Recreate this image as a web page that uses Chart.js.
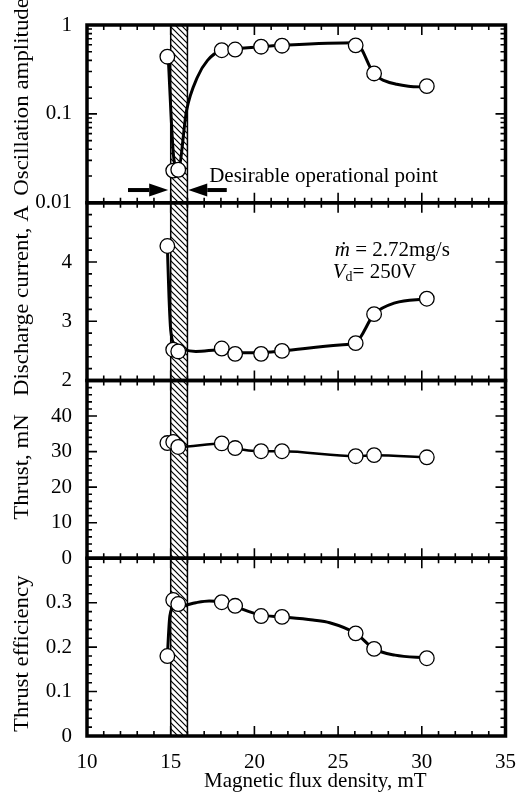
<!DOCTYPE html>
<html>
<head>
<meta charset="utf-8">
<script src="https://cdn.jsdelivr.net/npm/chart.js@4"></script>
<style>
  html, body { margin: 0; padding: 0; background: #fff; }
</style>
</head>
<body>
<canvas id="chart" width="522" height="796"></canvas>
<script>
// measured points (magnetic flux density, mT)
const fieldMT    = [14.8, 15.15, 15.45, 18.05, 18.85, 20.4, 21.65, 26.05, 27.15, 30.3];
const oscAmp     = [0.44, 0.023, 0.0235, 0.52, 0.53, 0.57, 0.585, 0.59, 0.285, 0.205];
const dischargeA = [4.27, 2.52, 2.49, 2.54, 2.45, 2.45, 2.5, 2.63, 3.12, 3.38];
const thrustMN   = [32.4, 32.7, 31.3, 32.3, 31.0, 30.1, 30.1, 28.7, 29.0, 28.4];
const efficiency = [0.18, 0.306, 0.297, 0.301, 0.293, 0.27, 0.268, 0.231, 0.196, 0.175];

// hand-drawn trend curves
const oscCurveB  = [14.85, 15.2, 15.45, 15.95, 16.6, 17.2, 18.05, 18.85, 20.4, 21.65, 26.05, 27.15, 27.8, 28.5, 29.2, 30.3];
const oscCurve   = [0.44, 0.03, 0.024, 0.11, 0.26, 0.4, 0.52, 0.54, 0.57, 0.59, 0.63, 0.28, 0.235, 0.215, 0.205, 0.2];
const curCurveB  = [14.8, 14.9, 15.0, 15.25, 15.7, 16.5, 18.05, 18.85, 20.4, 21.65, 25.1, 26.05, 27.15, 28.4, 30.3];
const curCurve   = [4.27, 3.4, 2.85, 2.6, 2.53, 2.49, 2.52, 2.47, 2.47, 2.5, 2.6, 2.64, 3.12, 3.31, 3.38];
const effCurveB  = [14.8, 14.95, 15.2, 15.6, 16.5, 17.3, 18.05, 18.85, 20.4, 21.65, 23.5, 24.5, 26.05, 27.15, 28.4, 30.3];
const effCurve   = [0.18, 0.27, 0.29, 0.292, 0.3, 0.304, 0.301, 0.291, 0.272, 0.268, 0.261, 0.255, 0.231, 0.196, 0.182, 0.176];

// labels
const panelIds    = ['yOsc', 'yCur', 'yThr', 'yEff'];
const panelTitles = ['Oscillation amplitude', 'Discharge current, A', 'Thrust, mN', 'Thrust efficiency'];
const xTitle      = 'Magnetic flux density, mT';

// annotations
const bandMT       = [15, 16];
const arrowLeftMT  = [12.45, 14.85];   // tail, tip
const arrowRightMT = [18.35, 16.05];
const arrowLevel   = 0.0139;
const noteText     = 'Desirable operational point';
const noteAt       = [17.3, 0.0195];
const condAt       = [24.8, 4.19, 3.82]; // x, y of mdot line, y of Vd line

const serif = '"Liberation Serif", "Times New Roman", serif';
const tickFont = { family: serif, size: 21 };
const titleShift = [-17, 9, -2.5, 6.5];   // title centre offset from panel centre, px

const pts = (xs, ys) => xs.map((x, i) => ({ x, y: ys[i] }));

function markers(ys, axis) {
  return {
    data: pts(fieldMT, ys), yAxisID: axis, order: 0, showLine: false,
    pointRadius: 7.3, pointBackgroundColor: '#fff', pointBorderColor: '#000', pointBorderWidth: 1.3
  };
}
function curve(xs, ys, axis, width) {
  return {
    data: pts(xs, ys), yAxisID: axis, order: 1, pointRadius: 0,
    borderColor: '#000', borderWidth: width || 3, cubicInterpolationMode: 'monotone'
  };
}

function panelAxis(weight, extra) {
  return Object.assign({
    stack: 'panels', stackWeight: 1, weight, position: 'left',
    grid: { display: false }, border: { display: false },
    ticks: Object.assign({ autoSkip: false, padding: 7, color: '#000', font: tickFont }, extra.ticks),
    afterFit: s => { s.width = 87; }
  }, extra.base);
}

const near = (v, step) => Math.abs(v / step - Math.round(v / step)) < 1e-6;

function hatch(ctx) {
  const p = document.createElement('canvas');
  p.width = p.height = 6;
  const g = p.getContext('2d');
  g.fillStyle = '#fff';
  g.fillRect(0, 0, 6, 6);
  g.strokeStyle = '#000';
  g.lineWidth = 1.2;
  g.beginPath();
  g.moveTo(-1, -1); g.lineTo(7, 7);
  g.moveTo(-1, 5); g.lineTo(1, 7);
  g.moveTo(5, -1); g.lineTo(7, 1);
  g.stroke();
  return ctx.createPattern(p, 'repeat');
}

function arrow(ctx, x0, x1, y) {
  const dir = Math.sign(x1 - x0);
  const head = 19;
  ctx.lineWidth = 4;
  ctx.beginPath();
  ctx.moveTo(x0, y); ctx.lineTo(x1 - dir * head, y);
  ctx.stroke();
  ctx.beginPath();
  ctx.moveTo(x1, y);
  ctx.lineTo(x1 - dir * head, y - 6.5);
  ctx.lineTo(x1 - dir * head, y + 6.5);
  ctx.closePath();
  ctx.fill();
}

const decorations = {
  id: 'decorations',
  beforeDatasetsDraw(chart) {
    const { ctx, scales } = chart;
    const x = scales.x;
    const top = scales.yOsc.top, bottom = scales.yEff.bottom;
    const x0 = x.getPixelForValue(bandMT[0]), x1 = x.getPixelForValue(bandMT[1]);
    ctx.save();
    ctx.fillStyle = hatch(ctx);
    ctx.fillRect(x0, top, x1 - x0, bottom - top);
    ctx.strokeStyle = '#000';
    ctx.lineWidth = 1.5;
    ctx.beginPath();
    ctx.moveTo(x0, top); ctx.lineTo(x0, bottom);
    ctx.moveTo(x1, top); ctx.lineTo(x1, bottom);
    ctx.stroke();
    ctx.restore();
  },
  afterDatasetsDraw(chart) {
    const { ctx, scales } = chart;
    const x = scales.x;
    ctx.save();
    ctx.strokeStyle = '#000';
    ctx.fillStyle = '#000';

    panelIds.forEach((id, i) => {
      const s = scales[id];
      // inward ticks
      ctx.lineWidth = 1.6;
      ctx.beginPath();
      s.ticks.forEach(t => {
        const py = s.getPixelForValue(t.value);
        const len = t.label !== '' ? 10 : 5;
        ctx.moveTo(x.left, py); ctx.lineTo(x.left + len, py);
        ctx.moveTo(x.right, py); ctx.lineTo(x.right - len, py);
      });
      x.ticks.forEach(t => {
        const px = x.getPixelForValue(t.value);
        const len = t.label !== '' ? 10 : 5;
        ctx.moveTo(px, s.top); ctx.lineTo(px, s.top + len);
        ctx.moveTo(px, s.bottom); ctx.lineTo(px, s.bottom - len);
      });
      ctx.stroke();
      ctx.lineWidth = 3.5;
      ctx.strokeRect(x.left, s.top, x.right - x.left, s.bottom - s.top);

      // rotated panel title, drawn a little stretched like the original scan
      ctx.save();
      ctx.translate(28, (s.top + s.bottom) / 2 + titleShift[i]);
      ctx.rotate(-Math.PI / 2);
      ctx.scale(1.09, 1);
      ctx.font = '21px ' + serif;
      ctx.textAlign = 'center';
      ctx.textBaseline = 'alphabetic';
      ctx.fillText(panelTitles[i], 0, 0);
      ctx.restore();
    });

    // x title
    ctx.font = '21px ' + serif;
    ctx.textAlign = 'center';
    ctx.textBaseline = 'alphabetic';
    ctx.fillText(xTitle, (x.left + x.right) / 2 + 19, x.bottom - 9);

    // operating point arrows and note
    const osc = scales.yOsc;
    const ay = osc.getPixelForValue(arrowLevel);
    arrow(ctx, x.getPixelForValue(arrowLeftMT[0]), x.getPixelForValue(arrowLeftMT[1]), ay);
    arrow(ctx, x.getPixelForValue(arrowRightMT[0]), x.getPixelForValue(arrowRightMT[1]), ay);
    ctx.textBaseline = 'middle';
    ctx.textAlign = 'left';
    ctx.fillText(noteText, x.getPixelForValue(noteAt[0]), osc.getPixelForValue(noteAt[1]));

    // operating condition
    const cur = scales.yCur;
    const cx = x.getPixelForValue(condAt[0]);
    const y1 = cur.getPixelForValue(condAt[1]);
    ctx.font = 'italic 21px ' + serif;
    ctx.fillText('\u1E41', cx, y1);
    let w = ctx.measureText('\u1E41').width;
    ctx.font = '21px ' + serif;
    ctx.fillText(' = 2.72mg/s', cx + w, y1);
    const y2 = cur.getPixelForValue(condAt[2]);
    ctx.font = 'italic 21px ' + serif;
    ctx.fillText('V', cx - 2, y2);
    w = ctx.measureText('V').width - 2;
    ctx.font = '14px ' + serif;
    ctx.fillText('d', cx + w, y2 + 5);
    w += ctx.measureText('d').width;
    ctx.font = '21px ' + serif;
    ctx.fillText('= 250V', cx + w, y2);
    ctx.restore();
  }
};

new Chart(document.getElementById('chart'), {
  type: 'line',
  data: {
    datasets: [
      markers(oscAmp, 'yOsc'),
      curve(oscCurveB, oscCurve, 'yOsc'),
      markers(dischargeA, 'yCur'),
      curve(curCurveB, curCurve, 'yCur'),
      markers(thrustMN, 'yThr'),
      curve(fieldMT, thrustMN, 'yThr', 2.5),
      markers(efficiency, 'yEff'),
      curve(effCurveB, effCurve, 'yEff')
    ]
  },
  options: {
    responsive: false,
    animation: false,
    devicePixelRatio: 1,
    events: [],
    layout: { padding: { left: 0, top: 25, right: 10, bottom: 0 } },
    plugins: { legend: { display: false }, tooltip: { enabled: false } },
    scales: {
      x: {
        type: 'linear', min: 10, max: 35,
        grid: { display: false }, border: { display: false },
        ticks: {
          stepSize: 1, autoSkip: false, maxRotation: 0, padding: 6, color: '#000', font: tickFont,
          callback: v => near(v, 5) ? String(v) : ''
        },
        afterFit: s => { s.height = 60; }
      },
      yOsc: panelAxis(4, {
        base: { type: 'logarithmic', min: 0.01, max: 1 },
        ticks: { callback: v => near(Math.log10(v), 1) ? String(+v.toPrecision(1)) : '' }
      }),
      yCur: panelAxis(3, {
        base: { type: 'linear', min: 2, max: 5 },
        ticks: { stepSize: 0.2, callback: v => near(v, 1) && v < 5 ? String(Math.round(v)) : '' }
      }),
      yThr: panelAxis(2, {
        base: { type: 'linear', min: 0, max: 50 },
        ticks: { stepSize: 2, callback: v => near(v, 10) && v < 50 ? String(Math.round(v)) : '' }
      }),
      yEff: panelAxis(1, {
        base: { type: 'linear', min: 0, max: 0.4 },
        ticks: { stepSize: 0.02, callback: v => near(v, 0.1) && v < 0.39 ? String(+v.toFixed(1)) : '' }
      })
    }
  },
  plugins: [decorations]
});
</script>
</body>
</html>
